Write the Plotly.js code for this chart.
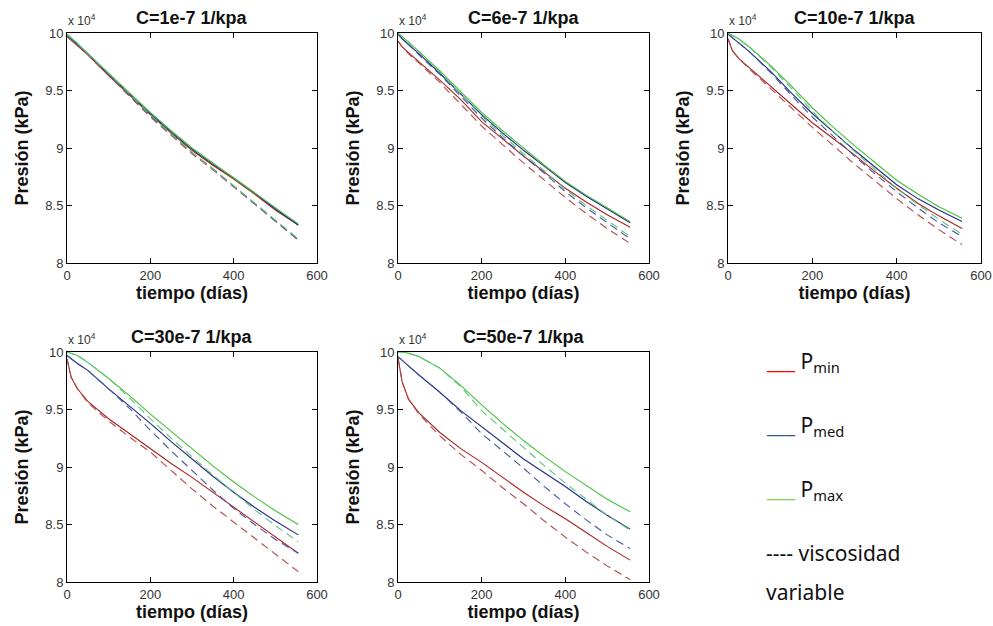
<!DOCTYPE html>
<html>
<head>
<meta charset="utf-8">
<script src="https://cdn.plot.ly/plotly-3.0.1.min.js"></script>
<style>html,body{margin:0;padding:0;background:#fff;}#chart{width:993px;height:626px;}</style>
</head>
<body>
<div id="chart"></div>
<script>
// tiempo (días)
const dias = [0, 10, 25, 50, 100, 150, 200, 250, 300, 350, 400, 450, 500, 555];

// Presión (x 10^4 kPa) — C = 1e-7 1/kpa
const c1MinConst = [9.97, 9.94, 9.89, 9.81, 9.63, 9.46, 9.29, 9.13, 8.98, 8.85, 8.73, 8.60, 8.46, 8.33];
const c1MedConst = [9.98, 9.95, 9.90, 9.82, 9.64, 9.47, 9.30, 9.14, 8.99, 8.86, 8.74, 8.61, 8.47, 8.33];
const c1MaxConst = [9.99, 9.96, 9.91, 9.82, 9.65, 9.48, 9.31, 9.15, 9.00, 8.87, 8.74, 8.61, 8.48, 8.34];
const c1MinVar   = [9.97, 9.94, 9.89, 9.81, 9.63, 9.45, 9.27, 9.11, 8.95, 8.81, 8.66, 8.51, 8.36, 8.20];
const c1MedVar   = [9.98, 9.95, 9.90, 9.82, 9.64, 9.46, 9.28, 9.12, 8.96, 8.82, 8.67, 8.52, 8.37, 8.20];
const c1MaxVar   = [9.99, 9.96, 9.91, 9.82, 9.65, 9.47, 9.29, 9.12, 8.96, 8.82, 8.67, 8.52, 8.37, 8.21];

// C = 6e-7 1/kpa
const c6MinConst = [9.93, 9.88, 9.83, 9.75, 9.59, 9.42, 9.23, 9.08, 8.93, 8.79, 8.65, 8.53, 8.42, 8.31];
const c6MedConst = [9.99, 9.95, 9.90, 9.82, 9.65, 9.47, 9.29, 9.13, 8.98, 8.84, 8.70, 8.58, 8.47, 8.35];
const c6MaxConst = [10.0, 9.97, 9.92, 9.84, 9.67, 9.49, 9.31, 9.15, 9.00, 8.85, 8.71, 8.59, 8.48, 8.36];
const c6MinVar   = [9.93, 9.88, 9.82, 9.74, 9.57, 9.38, 9.19, 9.03, 8.87, 8.72, 8.57, 8.43, 8.30, 8.17];
const c6MedVar   = [9.99, 9.95, 9.90, 9.81, 9.64, 9.45, 9.26, 9.09, 8.93, 8.78, 8.62, 8.48, 8.35, 8.21];
const c6MaxVar   = [10.0, 9.97, 9.92, 9.84, 9.66, 9.47, 9.28, 9.11, 8.95, 8.80, 8.64, 8.50, 8.37, 8.23];

// C = 10e-7 1/kpa
const c10MinConst = [9.95, 9.85, 9.78, 9.70, 9.54, 9.38, 9.22, 9.08, 8.94, 8.79, 8.65, 8.52, 8.41, 8.30];
const c10MedConst = [9.99, 9.96, 9.92, 9.84, 9.67, 9.48, 9.30, 9.14, 8.98, 8.83, 8.68, 8.56, 8.46, 8.36];
const c10MaxConst = [10.0, 9.98, 9.95, 9.88, 9.72, 9.54, 9.35, 9.18, 9.02, 8.87, 8.72, 8.60, 8.49, 8.39];
const c10MinVar   = [9.95, 9.85, 9.78, 9.69, 9.52, 9.35, 9.18, 9.02, 8.86, 8.71, 8.56, 8.42, 8.29, 8.16];
const c10MedVar   = [9.99, 9.96, 9.92, 9.84, 9.66, 9.46, 9.27, 9.10, 8.93, 8.77, 8.62, 8.48, 8.35, 8.23];
const c10MaxVar   = [10.0, 9.98, 9.95, 9.88, 9.71, 9.52, 9.32, 9.14, 8.97, 8.81, 8.65, 8.51, 8.38, 8.25];

// C = 30e-7 1/kpa
const c30MinConst = [9.94, 9.78, 9.68, 9.57, 9.42, 9.29, 9.16, 9.03, 8.91, 8.78, 8.65, 8.52, 8.39, 8.25];
const c30MedConst = [9.97, 9.94, 9.90, 9.84, 9.68, 9.53, 9.38, 9.22, 9.07, 8.92, 8.78, 8.65, 8.53, 8.41];
const c30MaxConst = [10.0, 9.99, 9.97, 9.91, 9.77, 9.62, 9.46, 9.31, 9.16, 9.01, 8.87, 8.74, 8.62, 8.50];
const c30MinVar   = [9.94, 9.78, 9.68, 9.56, 9.40, 9.26, 9.13, 8.97, 8.81, 8.66, 8.52, 8.38, 8.24, 8.09];
const c30MedVar   = [9.97, 9.94, 9.90, 9.84, 9.68, 9.51, 9.32, 9.14, 8.97, 8.80, 8.64, 8.50, 8.37, 8.25];
const c30MaxVar   = [10.0, 9.99, 9.97, 9.91, 9.77, 9.60, 9.42, 9.25, 9.09, 8.93, 8.78, 8.63, 8.49, 8.35];

// C = 50e-7 1/kpa
const c50MinConst = [9.95, 9.74, 9.59, 9.47, 9.30, 9.16, 9.04, 8.91, 8.78, 8.66, 8.55, 8.43, 8.31, 8.19];
const c50MedConst = [9.96, 9.93, 9.88, 9.80, 9.65, 9.49, 9.35, 9.21, 9.07, 8.95, 8.83, 8.70, 8.58, 8.46];
const c50MaxConst = [10.0, 10.0, 9.99, 9.96, 9.86, 9.71, 9.54, 9.38, 9.23, 9.09, 8.96, 8.84, 8.72, 8.61];
const c50MinVar   = [9.95, 9.74, 9.59, 9.46, 9.27, 9.11, 8.97, 8.82, 8.68, 8.53, 8.39, 8.26, 8.14, 8.02];
const c50MedVar   = [9.96, 9.93, 9.88, 9.80, 9.65, 9.48, 9.29, 9.14, 8.99, 8.83, 8.68, 8.54, 8.41, 8.29];
const c50MaxVar   = [10.0, 10.0, 9.99, 9.96, 9.86, 9.70, 9.49, 9.33, 9.17, 9.01, 8.86, 8.72, 8.58, 8.45];

const panelTitles = ["C=1e-7 1/kpa", "C=6e-7 1/kpa", "C=10e-7 1/kpa", "C=30e-7 1/kpa", "C=50e-7 1/kpa"];
const xTicks = [0, 200, 400, 600];
const yTicks = [8, 8.5, 9, 9.5, 10];
const legendLabels = ["P<sub>min</sub>", "P<sub>med</sub>", "P<sub>max</sub>"];
const legendNote = ["---- viscosidad", "variable"];

const panels = [
  [c1MinConst, c1MedConst, c1MaxConst, c1MinVar, c1MedVar, c1MaxVar],
  [c6MinConst, c6MedConst, c6MaxConst, c6MinVar, c6MedVar, c6MaxVar],
  [c10MinConst, c10MedConst, c10MaxConst, c10MinVar, c10MedVar, c10MaxVar],
  [c30MinConst, c30MedConst, c30MaxConst, c30MinVar, c30MedVar, c30MaxVar],
  [c50MinConst, c50MedConst, c50MaxConst, c50MinVar, c50MedVar, c50MaxVar]
];

const solidColors = ["#a82222", "#1f2a80", "#45c03a"];
const dashColors = ["#b44848", "#45559e", "#5cc47a"];
const legendColors = ["#ff0000", "#2e5597", "#7ed34b"];

const W = 993, H = 626;
// plot boxes in px: [left, right, top, bottom]
const boxes = [
  [67, 317, 33, 263],
  [398, 649, 33, 263],
  [728, 981, 33, 263],
  [67, 317, 352, 582],
  [398, 649, 352, 582]
];

const traces = [];
panels.forEach((set, p) => {
  const ax = p === 0 ? "" : String(p + 1);
  set.forEach((ys, k) => {
    const dashed = k >= 3;
    traces.push({
      x: dias, y: ys, type: "scatter", mode: "lines",
      xaxis: "x" + ax, yaxis: "y" + ax, showlegend: false,
      line: {color: dashed ? dashColors[k - 3] : solidColors[k], width: 1.1,
             dash: dashed ? "8px,5px" : "solid"},
      hoverinfo: "skip"
    });
  });
});

const font = "Liberation Sans, Arial, Helvetica, sans-serif";
const layout = {
  width: W, height: H,
  margin: {l: 0, r: 0, t: 0, b: 0},
  paper_bgcolor: "#fff", plot_bgcolor: "#fff",
  showlegend: false,
  font: {family: font, color: "#222"},
  annotations: [],
  shapes: []
};

boxes.forEach((b, p) => {
  const ax = p === 0 ? "" : String(p + 1);
  const xd = [b[0] / W, b[1] / W];
  const yd = [1 - b[3] / H, 1 - b[2] / H];
  layout["xaxis" + ax] = {
    domain: xd, range: [0, 600], anchor: "y" + ax,
    tickvals: xTicks, ticktext: xTicks.map(String),
    ticks: "inside", ticklen: 5, tickcolor: "#000", tickwidth: 1,
    showline: true, linecolor: "#000", linewidth: 1, mirror: "ticks",
    showgrid: false, zeroline: false, fixedrange: true,
    tickfont: {size: 13, color: "#333", family: font},
    title: {text: "tiempo (días)", font: {size: 18, color: "#111", family: font, weight: "bold"}, standoff: 3}
  };
  layout["yaxis" + ax] = {
    domain: yd, range: [8, 10], anchor: "x" + ax,
    tickvals: yTicks, ticktext: yTicks.map(String),
    ticks: "inside", ticklen: 5, tickcolor: "#000", tickwidth: 1,
    showline: true, linecolor: "#000", linewidth: 1, mirror: "ticks",
    showgrid: false, zeroline: false, fixedrange: true,
    tickfont: {size: 13, color: "#333", family: font},
    title: {text: "Presión (kPa)", font: {size: 18, color: "#111", family: font, weight: "bold"}, standoff: 12}
  };
  layout.annotations.push({
    xref: "paper", yref: "paper", x: (b[0] + b[1]) / 2 / W, y: 1 - (b[2] - 15) / H,
    text: "<b>" + panelTitles[p] + "</b>", showarrow: false,
    xanchor: "center", yanchor: "middle", font: {size: 18, color: "#111", family: font}
  });
  layout.annotations.push({
    xref: "paper", yref: "paper", x: (b[0] - 1) / W, y: 1 - (b[2] - 3) / H,
    text: "x 10<sup>4</sup>", showarrow: false,
    xanchor: "left", yanchor: "bottom", font: {size: 12, color: "#333", family: font}
  });
});

const legFont = "Noto Sans, Open Sans, sans-serif";
const legRows = [362, 426, 490];
legendLabels.forEach((lbl, i) => {
  layout.annotations.push({
    xref: "paper", yref: "paper", x: 764 / W, y: 1 - legRows[i] / H,
    text: "<span style='color:" + legendColors[i] + "'>___</span> " + lbl,
    showarrow: false, xanchor: "left", yanchor: "middle", align: "left",
    font: {size: 21, color: "#111", family: legFont}
  });
});
[553, 592].forEach((yy, i) => {
  layout.annotations.push({
    xref: "paper", yref: "paper", x: 764 / W, y: 1 - yy / H,
    text: legendNote[i], showarrow: false, xanchor: "left", yanchor: "middle", align: "left",
    font: {size: 21, color: "#111", family: legFont}
  });
});

Plotly.newPlot("chart", traces, layout, {staticPlot: true, displayModeBar: false});
</script>
</body>
</html>
